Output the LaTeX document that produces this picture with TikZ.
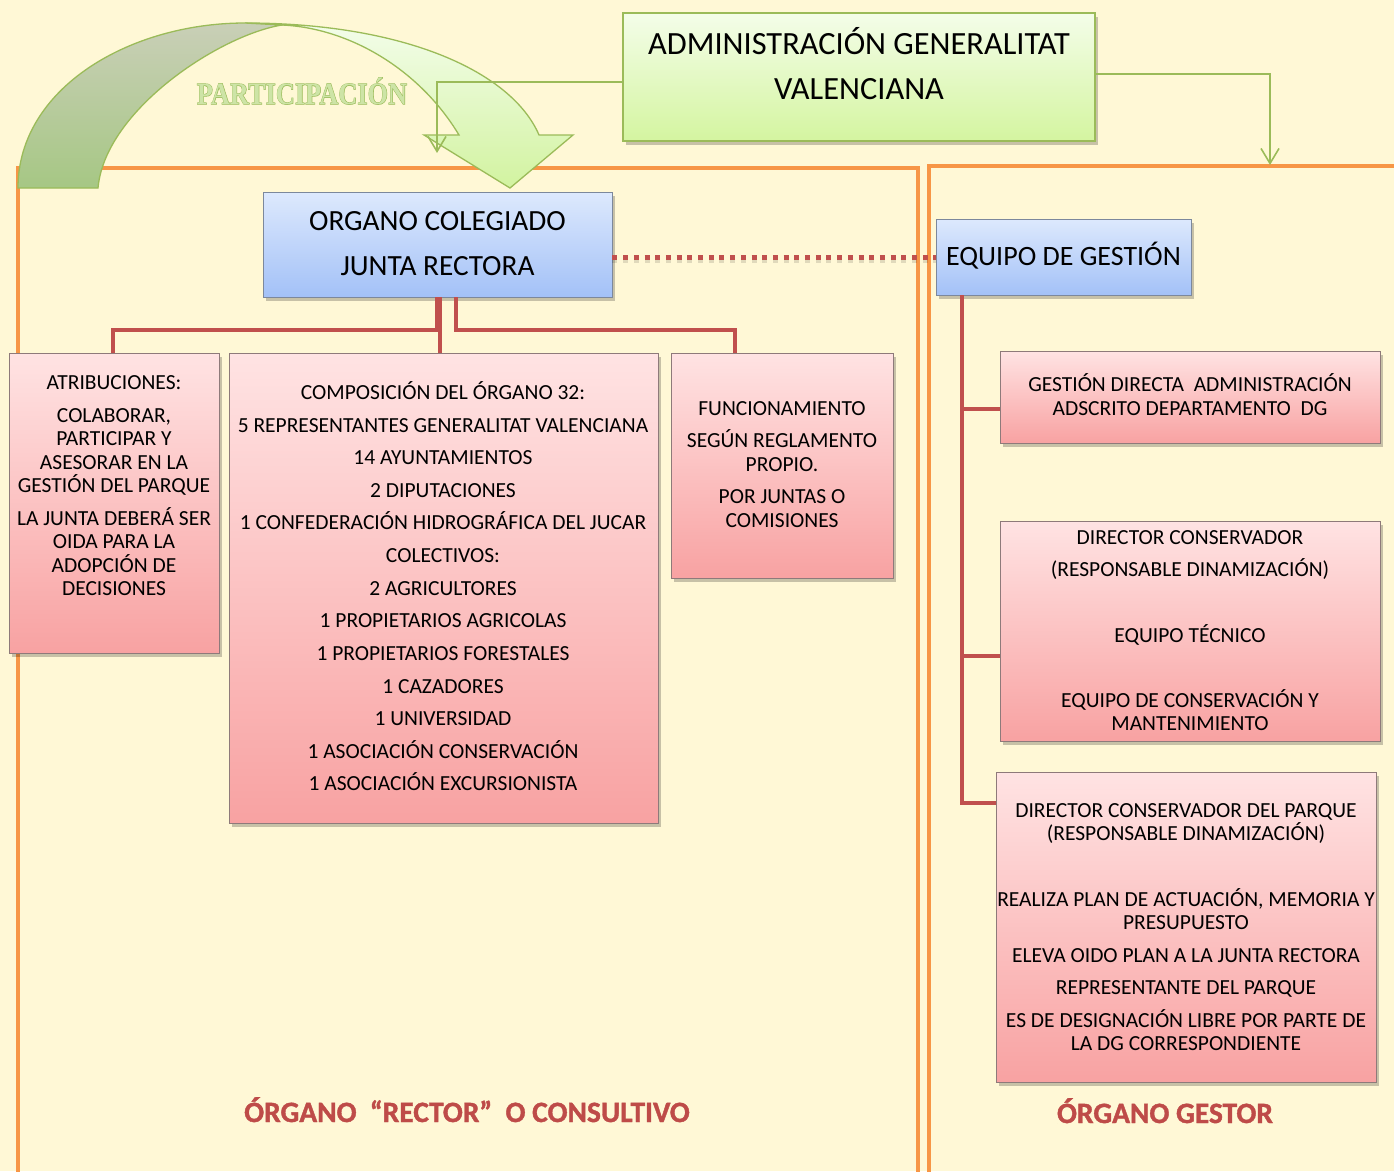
\documentclass[tikz,border=0pt]{standalone}
\usepackage{fontspec}
\setmainfont{Carlito}
\newfontfamily\heavyfont[FakeBold=1.3]{Carlito}
\newfontfamily\serifb{Liberation Serif}
\newfontfamily\serifheavy[FakeBold=3]{Liberation Serif}
\usetikzlibrary{shadows,arrows.meta,calc}
\definecolor{bg}{HTML}{FFF8D6}
\definecolor{orng}{HTML}{F79646}
\definecolor{grn}{HTML}{9BBB59}
\definecolor{rd}{HTML}{C0504D}
\definecolor{pinktop}{HTML}{FFE3E3}
\definecolor{pinkbot}{HTML}{F8A2A2}
\definecolor{pinkedge}{HTML}{8E7A7A}
\definecolor{bluetop}{HTML}{DDE9FD}
\definecolor{bluebot}{HTML}{A3C1F7}
\definecolor{blueedge}{HTML}{7C889C}
\definecolor{greentop}{HTML}{F4FDE9}
\definecolor{greenbot}{HTML}{D4F5A0}
\definecolor{arrLtop}{HTML}{C9CFB7}
\definecolor{arrLbot}{HTML}{A6C784}
\definecolor{arrRtop}{HTML}{F3FDEA}
\definecolor{arrRbot}{HTML}{D2F3A0}
\definecolor{partin}{HTML}{CDE4A6}
\definecolor{lblred}{HTML}{BE4B48}
\begin{document}
\begin{tikzpicture}[x=1pt,y=-1pt,
  shad/.style={drop shadow={shadow xshift=3pt,shadow yshift=-4pt,fill=black,opacity=0.22}},
  pinkbox/.style={shad,draw=pinkedge,line width=0.9pt,top color=pinktop,bottom color=pinkbot,inner sep=0pt},
  bluebox/.style={shad,draw=blueedge,line width=0.9pt,top color=bluetop,bottom color=bluebot,inner sep=0pt},
  greenbox/.style={shad,draw=grn,line width=2pt,top color=greentop,bottom color=greenbot,inner sep=0pt},
  txt/.style={inner sep=0pt,anchor=base,font=\fontsize{21.5}{25}\selectfont},
  bigtxt/.style={inner sep=0pt,anchor=base},
  lbl/.style={inner sep=0pt,anchor=base,font=\heavyfont\bfseries\fontsize{29.5}{32}\selectfont},
  oline/.style={draw=orng,line width=4pt},
  rline/.style={draw=rd,line width=4pt},
  gline/.style={draw=grn,line width=1.6pt,-{Straight Barb[length=15pt,width=18pt,line width=1.6pt]}},
  dotline/.style={draw=rd,line width=5pt,dash pattern=on 5pt off 5.7pt},
  band/.style={draw=grn,line width=1.3pt}
]
\useasboundingbox[fill=bg] (0,0) rectangle (1394,1171);

% orange frames
\draw[oline] (18,1180) -- (18,168) -- (918,168) -- (918,1180);
\draw[oline] (929,1180) -- (929,166) -- (1400,166);

% big curved arrow
\path[band,top color=arrRtop,bottom color=arrRbot]
  (245,23) .. controls (405,23) and (512,72) .. (539,135) -- (573,135) -- (510,188)
  -- (424,135) -- (459,135) .. controls (420,70) and (350,28) .. (282,25) -- cycle;
\path[band,top color=arrLtop,bottom color=arrLbot]
  (18,188) .. controls (18,88) and (130,23) .. (245,23) -- (282,25)
  .. controls (220,35) and (105,110) .. (98,188) -- cycle;
\node[inner sep=0pt,text=grn,font=\serifheavy\bfseries\fontsize{31}{31}\selectfont] (part) at (302,91) {\scalebox{0.85}[1]{PARTICIPACIÓN}};
\node[inner sep=0pt,text=partin,font=\serifb\bfseries\fontsize{31}{31}\selectfont] (partin) at (part.center) {\scalebox{0.85}[1]{PARTICIPACIÓN}};

% top box
\node[greenbox,minimum width=472pt,minimum height=128pt] (admin) at (859,77) {};
\node[bigtxt,font=\fontsize{32.4}{36}\selectfont] (adminA) at (859,54) {ADMINISTRACIÓN GENERALITAT};
\node[bigtxt,font=\fontsize{32.4}{36}\selectfont] (adminB) at (859,99) {VALENCIANA};

\coordinate (tipL) at (437,153);
\coordinate (tipR) at (1270,165);
\draw[gline] ([yshift=-5pt]admin.west) -| (tipL);
\draw[gline] ([yshift=3pt]admin.east) -| (tipR);

% left tree
\node[bluebox,minimum width=349pt,minimum height=105pt] (organo) at (437.5,244.5) {};
\node[pinkbox,minimum width=210pt,minimum height=300pt] (atrib) at (114,503) {};
\node[pinkbox,minimum width=429pt,minimum height=470pt] (comp) at (443.5,588) {};
\node[pinkbox,minimum width=222pt,minimum height=225pt] (func) at (782,465.5) {};
\draw[rline] ([xshift=-1pt]organo.south) -- ++(0,33) -| ([xshift=-1pt]atrib.north);
\draw[rline] ([xshift=2pt]organo.south) -- ([xshift=2pt]organo.south |- comp.north);
\draw[rline] ([xshift=18pt]organo.south) -- ++(0,33) -| ([xshift=-47pt]func.north);

% right tree
\node[bluebox,minimum width=255pt,minimum height=76pt] (equipo) at (1063.5,257) {};
\node[pinkbox,minimum width=380pt,minimum height=92pt] (g1) at (1190,397) {};
\node[pinkbox,minimum width=380pt,minimum height=220pt] (g2) at (1190,631) {};
\node[pinkbox,minimum width=380pt,minimum height=310pt] (g3) at (1186,927) {};
\draw[rline] ([xshift=26pt]equipo.south west) |- ([yshift=-12pt]g1.west);
\draw[rline] ([xshift=26pt]equipo.south west) |- ([yshift=-25pt]g2.west);
\draw[rline] ([xshift=26pt]equipo.south west) |- ([yshift=-31pt]g3.north west);

\draw[dotline,draw=black,opacity=0.12,line width=6pt] ([yshift=-3pt]equipo.west -| organo.east) -- ([yshift=-3pt]equipo.west);
\draw[dotline] (equipo.west -| organo.east) -- (equipo.west);

% texts of blue boxes
\node[bigtxt,font=\fontsize{29.3}{32}\selectfont] (organoA) at (437.5,230) {ORGANO COLEGIADO};
\node[bigtxt,font=\fontsize{29.3}{32}\selectfont] (organoB) at (437.5,275) {JUNTA RECTORA};
\node[bigtxt,font=\fontsize{28}{32}\selectfont] (equipoA) at (1063.5,265) {EQUIPO DE GESTIÓN};

% texts of pink boxes
\foreach \t/\y [count=\i] in {ATRIBUCIONES:/382,{COLABORAR,}/415,PARTICIPAR Y/438,ASESORAR EN LA/462,GESTIÓN DEL PARQUE/485,LA JUNTA DEBERÁ SER/518,OIDA PARA LA/541,ADOPCIÓN DE/565,DECISIONES/588}
  \node[txt] (atribT\i) at (114,\y+7) {\t};

\foreach \t/\y [count=\i] in {COMPOSICIÓN DEL ÓRGANO 32:/392,5 REPRESENTANTES GENERALITAT VALENCIANA/425,14 AYUNTAMIENTOS/457,2 DIPUTACIONES/490,1 CONFEDERACIÓN HIDROGRÁFICA DEL JUCAR/522,COLECTIVOS:/555,2 AGRICULTORES/588,1 PROPIETARIOS AGRICOLAS/620,1 PROPIETARIOS FORESTALES/653,1 CAZADORES/686,1 UNIVERSIDAD/718,1 ASOCIACIÓN CONSERVACIÓN/751,1 ASOCIACIÓN EXCURSIONISTA/783}
  \node[txt] (compT\i) at (443,\y+7) {\t};

\foreach \t/\y [count=\i] in {FUNCIONAMIENTO/408,SEGÚN REGLAMENTO/440,PROPIO./464,POR JUNTAS O/496,COMISIONES/520}
  \node[txt] (funcT\i) at (782,\y+7) {\t};

\foreach \t/\y [count=\i] in {GESTIÓN DIRECTA\ \ ADMINISTRACIÓN/384,ADSCRITO DEPARTAMENTO\ \ DG/408}
  \node[txt] (gaT\i) at (1190,\y+7) {\t};

\foreach \t/\y [count=\i] in {DIRECTOR CONSERVADOR/537,(RESPONSABLE DINAMIZACIÓN)/569,EQUIPO TÉCNICO/635,EQUIPO DE CONSERVACIÓN Y/700,MANTENIMIENTO/723}
  \node[txt] (gbT\i) at (1190,\y+7) {\t};

\foreach \t/\y [count=\i] in {DIRECTOR CONSERVADOR DEL PARQUE/810,(RESPONSABLE DINAMIZACIÓN)/833,{REALIZA PLAN DE ACTUACIÓN, MEMORIA Y}/899,PRESUPUESTO/922,ELEVA OIDO PLAN A LA JUNTA RECTORA/955,REPRESENTANTE DEL PARQUE/987,ES DE DESIGNACIÓN LIBRE POR PARTE DE/1020,LA DG CORRESPONDIENTE/1043}
  \node[txt] (gcT\i) at (1186,\y+7) {\t};

% bottom labels
\node[lbl,text=lblred] (lblL) at (467,1122) {ÓRGANO\ \ “RECTOR”\ \ O CONSULTIVO};
\node[lbl,text=lblred] (lblR) at (1165,1123) {ÓRGANO GESTOR};
\end{tikzpicture}
\end{document}
